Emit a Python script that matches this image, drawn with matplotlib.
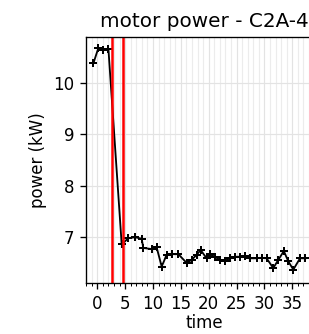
import matplotlib
matplotlib.use("Agg")
import matplotlib.pyplot as plt
from matplotlib.ticker import MultipleLocator

title = "motor power - C2A-4"
time = [-0.7, 0.2, 1.1, 2.0,
        4.38, 5.57, 6.77, 7.97, 8.26, 9.77, 10.66, 11.56, 12.46, 13.36, 14.55,
        16.05, 16.95, 17.85, 18.56, 19.64, 20.2, 21.1, 22.0, 22.9, 23.8, 24.7,
        25.6, 26.5, 27.4, 28.6, 29.5, 30.4, 31.6, 32.5, 33.5, 34.3, 35.2,
        36.4, 37.3, 38.3]
power = [10.38, 10.68, 10.64, 10.65,
         6.86, 6.98, 7.00, 6.97, 6.79, 6.77, 6.80, 6.43, 6.66, 6.67, 6.67,
         6.50, 6.56, 6.66, 6.75, 6.59, 6.67, 6.62, 6.56, 6.54, 6.59, 6.62,
         6.62, 6.64, 6.59, 6.59, 6.60, 6.59, 6.40, 6.56, 6.73, 6.53, 6.37,
         6.59, 6.59, 6.60]
events = [2.7, 4.6]
xticks = [0, 5, 10, 15, 20, 25, 30, 35]
yticks = [7, 8, 9, 10]

DPI = 120
fig = plt.figure(figsize=(309 / DPI, 334 / DPI), dpi=DPI)
ax = fig.add_axes([86/309, 1 - 283/334, (322 - 86)/309, (283 - 37)/334])
ax.plot(time, power, color="black", marker="+", linewidth=1.1, markersize=5,
        markeredgewidth=1.2)
for e in events:
    ax.axvline(e, color="red", linewidth=1.5)
ax.set_xlim(-2.03, 40.35)
ax.set_ylim(6.11, 10.89)
ax.set_xticks(xticks)
ax.set_yticks(yticks)
ax.xaxis.set_minor_locator(MultipleLocator(1))
ax.tick_params(which="major", length=3.5)
ax.tick_params(which="minor", length=2)
ax.grid(which="major", color="#e3e3e3", linewidth=0.7)
ax.grid(which="minor", axis="x", color="#ececec", linewidth=0.7)
ax.set_axisbelow(True)
ax.set_title(title, fontsize=12)
ax.set_xlabel("time", labelpad=1)
ax.set_ylabel("power (kW)")
fig.savefig("out.png", dpi=DPI)
